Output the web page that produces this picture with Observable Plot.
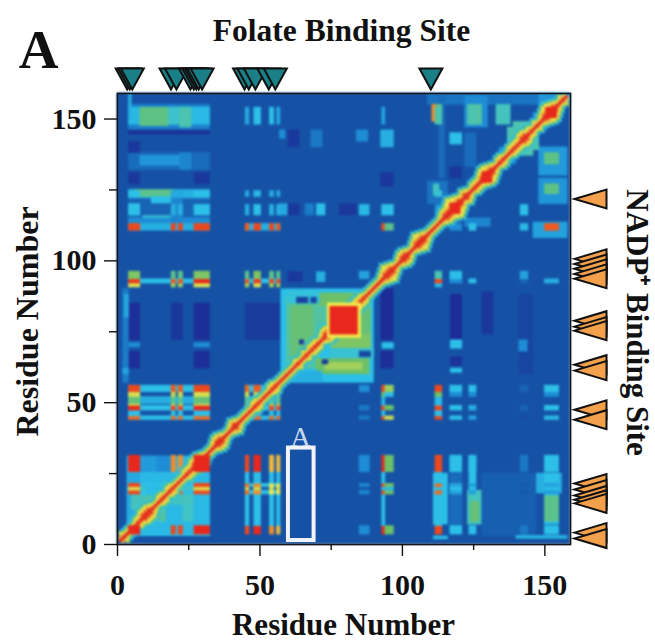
<!DOCTYPE html>
<html><head><meta charset="utf-8">
<script src="https://cdn.jsdelivr.net/npm/d3@7"></script>
<script src="https://cdn.jsdelivr.net/npm/@observablehq/plot@0.6"></script>
<style>html,body{margin:0;padding:0;background:#fff}svg{display:block}</style>
</head><body><div id="chart"></div>
<script>
// contact strength stops of the rainbow scale
const colorStops = [0, .08, .16, .3, .42, .5, .6, .75, .87, 1];
const colorRange = ["#23208c","#1c2f98","#1552a6","#1e8dd6","#2cc0e8","#4cc4b0","#6cc068","#f4e84a","#f27a22","#e8281c"];

const folateResidues = [3.4,4.3,5.2,18.8,20.7,25.6,26.8,27.7,28.5,29.7,44.6,46.1,48.4,53.1,55.4,110];
const nadpResidues = [121.8,100.7,98.9,97.2,95.4,93.7,78.9,76.8,75.4,63.4,61.3,47.5,44,21.5,19.4,17.3,15.8,14.5,4.2,2.1];

// column groups of the striped pattern (residue spans)
const colSpans = [[4,8],[19,20.5],[21.5,23],[27,32.5],[45,46.3],[48,50.4],[53.5,55],[56,57.2],[85,88.5],[92.9,94],[94,97],[111.6,114],[116.8,121],[123.5,126],[141.5,144.2],[150,155]];
const _ = null;
const rowSpans = [
 [3.5,6.5],[6.5,17.6],[17.6,19],[19,20.2],[20.2,21.4],[21.4,25.5],[25.5,31.3],
 [43.9,45.2],[45.2,47.2],[47.2,48.9],[48.9,49.5],[49.5,52],[52,53.7],[53.7,56],
 [90.6,92],[92,93.5],[93.5,96.2],[110.6,113],[116,119.7],[122.5,124.6],[148,154]];
const rowValues = [
 [1,.95,.95,1,.95,1,.85,.8,.3,1,.6,.95,.42,.42,.25,.42],
 [_,_,_,_,.42,.42,.42,.42,_,.42,_,.42,_,_,_,_],
 [.95,.9,.9,.95,.9,.85,.75,.75,.28,.95,.6,.9,.35,.35,.18,.35],
 [.72,.7,.7,.72,.7,.7,.7,.7,_,.42,.4,.42,.42,_,_,_],
 [.95,.9,.9,.95,.9,.85,.75,.75,.28,.95,.6,.9,.35,.35,.18,.35],
 [_,_,_,_,.42,.42,.42,.42,_,.42,_,.42,_,_,_,_],
 [1,.85,.85,1,.95,1,.8,.8,.3,1,.6,.95,.42,.42,.25,.42],
 [.9,.9,.9,.9,.85,.9,.9,.9,.25,.95,.7,.95,.42,.35,.15,.4],
 [.42,.42,.42,.42,.42,.42,.42,.42,_,.42,_,.42,_,_,_,_],
 [1,.95,.95,1,.9,.9,.95,.95,.25,.95,.6,.95,.42,.38,.2,.42],
 [.72,.7,.7,.72,.7,.7,.7,.7,_,.42,_,.42,_,_,_,_],
 [.58,.55,.55,.58,.55,.58,.55,.55,_,.4,_,.4,_,_,_,_],
 [.72,.7,.7,.72,.7,.7,.7,.7,_,.6,.42,.6,.3,.3,_,.3],
 [.95,.92,.92,.95,.9,.92,.92,.92,.3,.95,.65,.95,.42,.42,.2,.42],
 [.72,.65,.65,.72,.65,.72,.65,.65,_,.4,_,.4,_,_,_,_],
 [.97,.93,.93,1,.93,.97,.95,.95,_,1,.42,.95,.3,.42,.2,.38],
 [.62,.55,.55,.62,.55,.62,.55,.55,.35,.42,.42,.5,.42,_,.35,_],
 [.95,.95,.95,.95,.92,.95,.95,.92,_,.95,.55,.35,.3,.42,.4,.92],
 [.42,.38,.38,.42,.38,.42,.38,.38,.4,.42,.42,.3,_,_,.42,_],
 [.42,.36,.36,.42,.36,.4,.36,.36,_,_,_,.45,_,_,_,_],
 [_,_,_,_,.36,.42,.42,.36,_,.35,_,.5,_,.5,_,_]
];
// thin bands that link the column groups across a row: y1, y2, strength
const linkBands = [[17.6,19,.42],[20.2,21.4,.42],[43.9,45.2,.42],[47.2,48.9,.42],[49.5,52,.38],[53.7,56,.42],[92,93.5,.42],[110.6,113,.38]];

// soft, wide patches: x1, x2, y1, y2, strength
const softUpperLeft = [
 [4,32.5,146,155,.27],[4,32.5,148,154,.4],[8,18,147.5,154,.56],[18,25,148,154,.46],[22,26,147,154,.5],
 [4,5,150,159,.38],[4,32.5,144.5,146,.09],
 [4,32.5,132,138,.22],[8,22,133.5,137,.32],[4,8,138,142,.1],[22,26,132,138,.28],
 [4,32.5,113,122,.2],[4,32.5,122,125,.38],[6,20,122.5,125,.55],[12,20,120,122.5,.42],
 [4,8,116,120,.42],[9,20,113,116,.45],[4,32.5,113,115,.3],[27,32.5,127,131,.1],[4,8,127,131,.1],
 [19,23,113,122,.28],[8,19,116,120,.2]
];
const softLowerLeft = [
 [3.5,32.5,3,31,.4],[8,27,7,25,.4],[4,8,7,25,.36],[8,14,25.5,31,.33],[14,19,25.5,31,.3],[23,27,25.5,31,.4],
 [8,17,8,17,.52],[5,10,12,20,.48],[16,27,14,22,.48],[23,27,8,14,.47],[27,32.5,7,17,.4],[4,32.5,3,3.5,.42]
];
const softRight = [
 [111,116,7,25,.42],[111.6,114,6,14,.52],[116.8,121,6.5,31,.22],[123,128,7,19,.48],[124,127,8,15,.58],
 [123.5,126,19,31,.42],[147,156,18,25,.38],[150,155,7,25,.42],[150,155,8,17,.55],[128,147,3,25,.19],
 [111,116,1.8,2.8,.42],[140,158,2,3,.4],[85,88.5,25.5,31,.3],
 [109,159,155,158.8,.24],[122,130,147,158,.3],[123,128,148,155,.52],[133,138,148,155,.48],
 [148,159,155,159,.32],[148,158,130,140,.33],[150,155,134,138,.56],[148,158,120,129,.32],[150,155,123.5,127,.56],
 [109,116,120,128,.24],[111,113,123,127,.48],[122,126,133,145,.22],[122,131,112,115,.28],[113,115,129,158,.22],
 [110.5,112,149,155,.85],[112,114,149,155,.55],[146,158,108,113.5,.35],
 [137,148,139,147,.5],[139,146,137,149,.5],[134,140,134,140,.3],[146,151,146,152,.32]
];
// darker pockets and small marks around the centre
const pockets = [
 [4,8,62,68,.08],[4,8,72,85,.08],[4,8,69.5,71,.3],[27,32.5,62,68,.08],[27,32.5,72,85,.08],[27,32.5,69.5,71,.3],
 [19,23,72,85,.1],[45,57,72,85,.11],[2,4,57,90,.26],[2.5,4,80,88,.36],[2,4,60,62,.35],
 [92.5,97,62,68,.08],[92.5,97,72,90,.07],[93,97,69,71,.42],[117,121,72,88,.07],[117,121,69,72,.42],[117,121,60.5,62,.42],
 [117,121,63,66,.09],[128,132,74,89,.1],[141,146,60,88,.13],[141,144,68,72,.3],
 [57,60,116,120,.36],[60,64,116,120,.1],[66,69,116,120,.26],[70,73,116,120,.42],[78,84,116,120,.1],
 [68,72,140,146,.25],[60,64,140,146,.1],[57,59,143,146,.3],[60,65,92.5,96,.1],[70,73,92.5,96,.38],
 [92.5,97,140,146,.38],[92.5,97,126,131,.1],[116.8,121,129,133,.1],[84,88,142,146,.3],[116.8,121,141,145,.42]
];
// central domain, painted outward to inward
const centralDomain = [
 [57.5,90,57,90,.42],[59.5,71,62,87,.52],[61,70,66,84,.58],[69,75,72,85,.52],[71,88.5,84,88.5,.6],[84.5,89,71,88,.58],
 [75,89,69,74,.62],[75,90,65.4,69,.45],[70,88.5,60,65.4,.6],[73,86,61.5,64,.66],[60,72,57,61,.38],[57.5,60,57,60,.22],
 [60,71,85,89,.44],[63,67,85,87,.12],[68,70,85,87,.14],[85,89,66,68,.14],[64,65.5,70.5,72,.1],[65,66.5,67.5,69,.1],[72,74,63.5,65,.1]
];
// red squares along the diagonal, with the yellow rim of the central one
const diagonalBlocks = [[73.8,85.5,72.8,85,.75],[74.7,84.4,74,83.8,1],[27,32.5,25.5,31.3,1],[4,8,3.5,6.5,1],[116.8,120.4,116.5,120.2,1],[128,131.6,127.5,131.3,1],[150.4,154.3,150.3,154,1]];
// half width of the ridge along the diagonal, one value for each residue
const ridge = [1,2,2,1,1,1,1,2,2,3,3,3,2,1,1,2,2,1,2,2,1,1,1,1,2,2,2,3,3,3,2,1,1,1,2,3,3,2,1,1,2,3,2,1,1,1,1,1,2,2,1,1,1,1,2,2,1,1,1,1,1,1,1,2,1,1,2,1,2,2,2,1,2,3,3,2,2,2,2,2,2,2,2,2,2,2,2,1,1,1,1,1,1,2,3,4,3,2,1,2,3,3,2,1,2,3,4,3,2,1,1,1,1,1,2,3,3,4,5,4,3,2,3,2,1,2,2,2,3,4,4,3,2,1,2,2,1,1,2,2,2,2,3,3,2,2,1,2,1,2,3,4,4,3,2,1,2,1,1];
const ridgeLevels = [1,.95,.8,.75];
const ridgeEdge = [.6,.42];
const ridgeStep = 0.5;
const ridgeCell = 1.1;

const patch = ([x1,x2,y1,y2,v]) => ({x1,x2,y1,y2,v});
const tableCells = rowSpans.flatMap(([y1,y2],r) => colSpans.flatMap(([x1,x2],c) =>
  rowValues[r][c] === null ? [] : [{x1,x2,y1,y2,v:rowValues[r][c]}]));
const linkCells = linkBands.flatMap(([y1,y2,v]) => [{x1:4,x2:32.5,y1,y2,v},{x1:45,x2:57.2,y1,y2,v}]);
const ridgeCells = ridge.flatMap((w,i) => d3.range(-w-2,w+3).map(k => {
  const a = Math.abs(k), v = a > w ? ridgeEdge[a-w-1] : ridgeLevels[Math.ceil(a/w*3)];
  const x = i+k*ridgeStep+.5, y = i-k*ridgeStep+.5, h = ridgeCell/2;
  return {x1:x-h,x2:x+h,y1:y-h,y2:y+h,v};
})).filter(d => d.x1>=0 && d.y1>=0 && d.x2<=159 && d.y2<=159)
  .sort((a,b) => a.v-b.v);
const cells = [
  {x1:0,x2:159,y1:0,y2:159,v:.16},
  ...softUpperLeft.map(patch),...softLowerLeft.map(patch),...softRight.map(patch),
  ...pockets.map(patch),...linkCells,...tableCells,...centralDomain.map(patch),
  ...ridgeCells,...diagonalBlocks.map(patch)
];

const serif = "Liberation Serif";
const downTriangle = {draw(c){c.moveTo(0,10.5);c.lineTo(-11.5,-10.5);c.lineTo(11.5,-10.5);c.closePath();}};
const leftTriangle = {draw(c){c.moveTo(-16,0);c.lineTo(16,-9.5);c.lineTo(16,9.5);c.closePath();}};
const label = (t,px,py,o={}) => Plot.text([t],{text:d=>d,frameAnchor:"top-left",textAnchor:"middle",lineAnchor:"middle",dx:px-117,dy:py-93,fontFamily:serif,fontWeight:"bold",fontSize:31,fill:"#111",...o});

const chart = Plot.plot({
  width:655,height:641,marginLeft:117,marginRight:85,marginTop:93,marginBottom:97,
  style:{background:"#fff",overflow:"visible"},
  x:{domain:[0,159],label:null},
  y:{domain:[0,159],label:null},
  color:{type:"linear",domain:colorStops,range:colorRange,clamp:true},
  marks:[
    Plot.rect(cells,{x1:"x1",x2:"x2",y1:"y1",y2:"y2",fill:"v",inset:-0.3,imageFilter:"blur(1.1px)"}),
    Plot.frame({stroke:"#151515",strokeWidth:1.6}),
    Plot.axisX({ticks:[0,50,100,150],tickSize:12,tickPadding:17,fontSize:30,fontWeight:"bold",fontFamily:serif,stroke:"#111",strokeWidth:1.4,fill:"#111",label:null}),
    Plot.axisX({ticks:[25,75,125],tickSize:6,tickFormat:()=>"",stroke:"#111",strokeWidth:1.4,label:null}),
    Plot.axisY({ticks:[0,50,100,150],tickSize:13,tickPadding:8,fontSize:30,fontWeight:"bold",fontFamily:serif,stroke:"#111",strokeWidth:1.4,fill:"#111",label:null}),
    Plot.axisY({ticks:[25,75,125],tickSize:8,tickFormat:()=>"",stroke:"#111",strokeWidth:1.4,label:null}),
    Plot.rect([{x1:60,x2:69,y1:1.4,y2:34}],{x1:"x1",x2:"x2",y1:"y1",y2:"y2",fill:"none",stroke:"#f2f2fa",strokeWidth:4}),
    label("A",300,437,{fontWeight:"normal",fontSize:28,fill:"#c8d8ee"}),
    Plot.dot(folateResidues,{x:d=>d,y:()=>159,dy:-14.5,symbol:downTriangle,fill:"#1a7f86",stroke:"#111",strokeWidth:2}),
    Plot.dot(nadpResidues,{x:()=>159,y:d=>d,dx:20,symbol:leftTriangle,fill:"#f2a04c",stroke:"#111",strokeWidth:2}),
    label("A",38,50,{fontSize:55}),
    label("Folate Binding Site",341,30,{fontSize:31.5}),
    label("Residue Number",27,321,{rotate:-90,fontSize:32}),
    label("Residue Number",343,625,{fontSize:31}),
    label("NADP⁺ Binding Site",636,322,{rotate:90,fontSize:31})
  ]
});
document.getElementById("chart").appendChild(chart);
</script></body></html>
